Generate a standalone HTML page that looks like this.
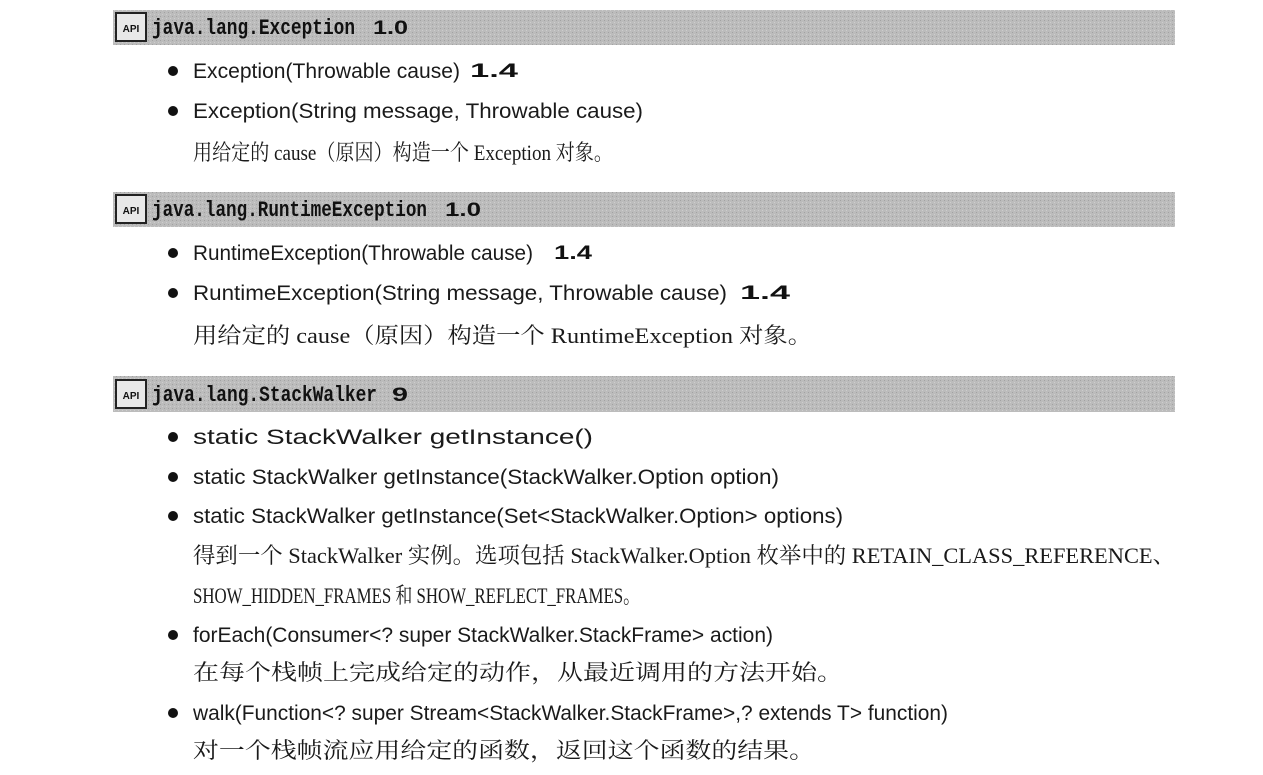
<!DOCTYPE html>
<html><head><meta charset="utf-8"><style>
html,body{margin:0;padding:0;background:#fff;width:1263px;height:775px;overflow:hidden}
svg{display:block}
.m{font-family:"Liberation Sans","Noto Sans CJK SC",sans-serif;font-size:21px;fill:#1a1a1a}
.h{font-family:"Liberation Mono",monospace;font-weight:bold;font-size:22px;fill:#111}
.v{font-family:"Liberation Sans",sans-serif;font-weight:bold;font-size:19px;fill:#111}
.c{font-family:"Liberation Serif","Noto Serif CJK SC",serif;font-size:22px;fill:#1a1a1a}
</style></head><body>
<svg width="1263" height="775" xmlns="http://www.w3.org/2000/svg">
<defs>
<pattern id="p" width="4" height="4" patternUnits="userSpaceOnUse">
<rect width="4" height="4" fill="#bcbcbc"/><rect x="0" y="0" width="1" height="1" fill="#a2a2a2"/><rect x="2" y="2" width="1" height="1" fill="#cecece"/>
</pattern>
<g id="api"><rect x="0" y="0" width="30" height="28" fill="#e8e8e8" stroke="#222" stroke-width="2"/><text x="15" y="19" text-anchor="middle" font-family="Liberation Sans" font-weight="bold" font-size="10" fill="#111">API</text></g>
</defs>
<rect x="113" y="10" width="1062" height="35" fill="url(#p)"/>
<rect x="113" y="192" width="1062" height="35" fill="url(#p)"/>
<rect x="113" y="376" width="1062" height="36" fill="url(#p)"/>
<use href="#api" x="116" y="13"/>
<use href="#api" x="116" y="195"/>
<use href="#api" x="116" y="380"/>
<text class="h" x="152" y="34" textLength="203" lengthAdjust="spacingAndGlyphs">java.lang.Exception</text>
<text class="v" x="373" y="34" textLength="35" lengthAdjust="spacingAndGlyphs">1.0</text>
<text class="h" x="152" y="216" textLength="275" lengthAdjust="spacingAndGlyphs">java.lang.RuntimeException</text>
<text class="v" x="445" y="216" textLength="36" lengthAdjust="spacingAndGlyphs">1.0</text>
<text class="h" x="152" y="401" textLength="225" lengthAdjust="spacingAndGlyphs">java.lang.StackWalker</text>
<text class="v" x="392" y="401" textLength="16" lengthAdjust="spacingAndGlyphs">9</text>
<g fill="#111">
<circle cx="173" cy="71" r="5"/><circle cx="173" cy="111" r="5"/>
<circle cx="173" cy="253" r="5"/><circle cx="173" cy="293" r="5"/>
<circle cx="173" cy="437" r="5"/><circle cx="173" cy="477" r="5"/><circle cx="173" cy="516" r="5"/>
<circle cx="173" cy="635" r="5"/><circle cx="173" cy="713" r="5"/>
</g>
<text class="m" x="193" y="78" textLength="267" lengthAdjust="spacingAndGlyphs">Exception(Throwable cause)</text>
<text class="v" x="470" y="77" textLength="48" lengthAdjust="spacingAndGlyphs">1.4</text>
<text class="m" x="193" y="118" textLength="450" lengthAdjust="spacingAndGlyphs">Exception(String message, Throwable cause)</text>
<text class="c" x="193" y="160" textLength="420" lengthAdjust="spacingAndGlyphs">用给定的 cause（原因）构造一个 Exception 对象。</text>
<text class="m" x="193" y="260" textLength="340" lengthAdjust="spacingAndGlyphs">RuntimeException(Throwable cause)</text>
<text class="v" x="554" y="259" textLength="38" lengthAdjust="spacingAndGlyphs">1.4</text>
<text class="m" x="193" y="300" textLength="534" lengthAdjust="spacingAndGlyphs">RuntimeException(String message, Throwable cause)</text>
<text class="v" x="740" y="299" textLength="50" lengthAdjust="spacingAndGlyphs">1.4</text>
<text class="c" x="193" y="343" textLength="619" lengthAdjust="spacingAndGlyphs">用给定的 cause（原因）构造一个 RuntimeException 对象。</text>
<text class="m" x="193" y="444" textLength="400" lengthAdjust="spacingAndGlyphs">static StackWalker getInstance()</text>
<text class="m" x="193" y="484" textLength="586" lengthAdjust="spacingAndGlyphs">static StackWalker getInstance(StackWalker.Option option)</text>
<text class="m" x="193" y="523" textLength="650" lengthAdjust="spacingAndGlyphs">static StackWalker getInstance(Set&lt;StackWalker.Option&gt; options)</text>
<text class="c" x="193" y="563" textLength="982" lengthAdjust="spacingAndGlyphs">得到一个 StackWalker 实例。选项包括 StackWalker.Option 枚举中的 RETAIN_CLASS_REFERENCE、</text>
<text class="c" x="193" y="603" textLength="447" lengthAdjust="spacingAndGlyphs">SHOW_HIDDEN_FRAMES 和 SHOW_REFLECT_FRAMES。</text>
<text class="m" x="193" y="642" textLength="580" lengthAdjust="spacingAndGlyphs">forEach(Consumer&lt;? super StackWalker.StackFrame&gt; action)</text>
<text class="c" x="193" y="680" textLength="650" lengthAdjust="spacingAndGlyphs">在每个栈帧上完成给定的动作，从最近调用的方法开始。</text>
<text class="m" x="193" y="720" textLength="755" lengthAdjust="spacingAndGlyphs">walk(Function&lt;? super Stream&lt;StackWalker.StackFrame&gt;,? extends T&gt; function)</text>
<text class="c" x="193" y="758" textLength="622" lengthAdjust="spacingAndGlyphs">对一个栈帧流应用给定的函数，返回这个函数的结果。</text>
</svg>
</body></html>
